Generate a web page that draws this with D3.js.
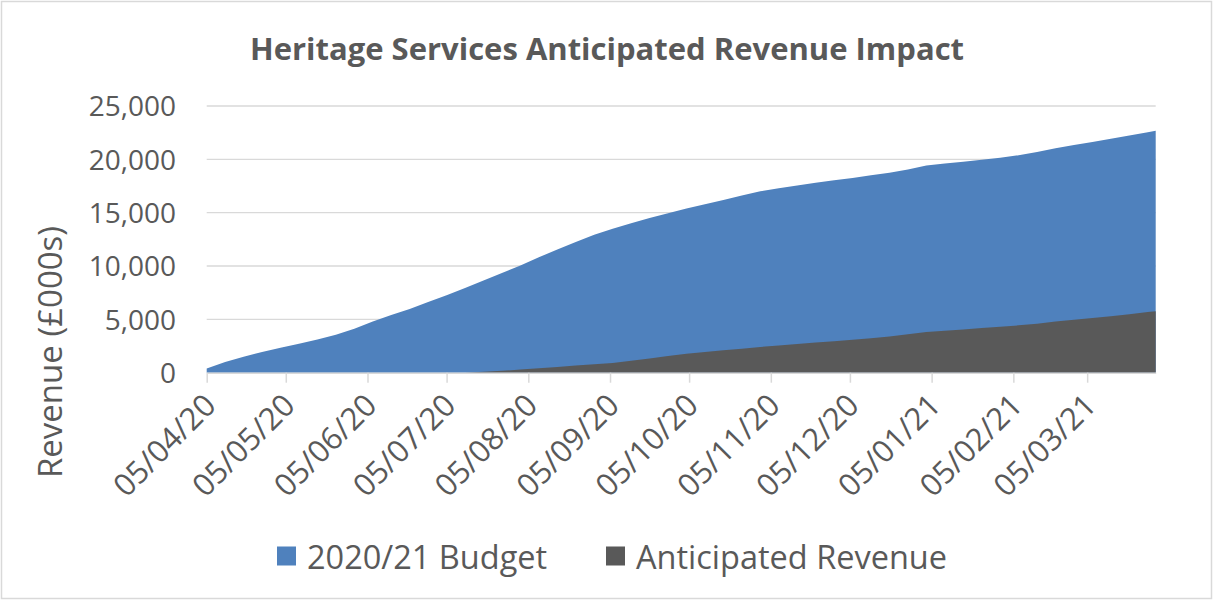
<!DOCTYPE html>
<html>
<head>
<meta charset="utf-8">
<script src="https://cdn.jsdelivr.net/npm/d3@7"></script>
<style>
  html, body { margin: 0; padding: 0; background: #fff; }
  svg { display: block; }
  text { font-family: "Open Sans", "Noto Sans", sans-serif; fill: #595959; }
</style>
</head>
<body>
<svg id="chart" width="1213" height="601"></svg>
<script>
const weeks = ["05/04/20","12/04/20","19/04/20","26/04/20","03/05/20","10/05/20","17/05/20","24/05/20","31/05/20",
  "07/06/20","14/06/20","21/06/20","28/06/20","05/07/20","12/07/20","19/07/20","26/07/20","02/08/20","09/08/20",
  "16/08/20","23/08/20","30/08/20","06/09/20","13/09/20","20/09/20","27/09/20","04/10/20","11/10/20","18/10/20",
  "25/10/20","01/11/20","08/11/20","15/11/20","22/11/20","29/11/20","06/12/20","13/12/20","20/12/20","27/12/20",
  "03/01/21","10/01/21","17/01/21","24/01/21","31/01/21","07/02/21","14/02/21","21/02/21","28/02/21","07/03/21",
  "14/03/21","21/03/21","28/03/21","31/03/21"];

const budget = [400,1000,1500,1950,2330,2710,3110,3560,4120,
  4800,5400,5980,6620,7250,7950,8650,9350,10050,10820,
  11550,12250,12920,13500,14000,14500,14950,15400,15800,16200,
  16600,17000,17300,17550,17800,18050,18250,18500,18750,19050,
  19420,19600,19780,19970,20150,20380,20680,21050,21350,21620,
  21920,22230,22550,22680];

const anticipated = [0,0,0,0,0,0,0,0,0,
  0,0,0,0,0,0,80,180,290,410,
  540,670,800,920,1130,1340,1560,1780,1950,2100,
  2250,2410,2560,2700,2830,2950,3080,3230,3400,3600,
  3820,3940,4060,4180,4300,4440,4600,4790,4970,5130,
  5300,5480,5680,5760];

const xTickLabels = ["05/04/20","05/05/20","05/06/20","05/07/20","05/08/20","05/09/20",
  "05/10/20","05/11/20","05/12/20","05/01/21","05/02/21","05/03/21"];
const yTicks = [0,5000,10000,15000,20000,25000];
const seriesNames = ["2020/21 Budget","Anticipated Revenue"];
const seriesColors = ["#4f81bd","#595959"];
const title = "Heritage Services Anticipated Revenue Impact";
const yTitle = "Revenue (£000s)";

const parse = d3.utcParse("%d/%m/%y");
const dates = weeks.map(parse);

const svg = d3.select("#chart");
const L = 206.7, R = 1155.7, T = 106, B = 372.7;

svg.append("rect").attr("x",1.5).attr("y",1.5).attr("width",1210).attr("height",597)
  .attr("fill","#fff").attr("stroke","#d9d9d9").attr("stroke-width",1.5);

const x = d3.scaleUtc().domain([dates[0], dates[dates.length-1]]).range([L, R]);
const y = d3.scaleLinear().domain([0, 25000]).range([B, T]);

// gridlines
svg.append("g").selectAll("line").data(yTicks.filter(d => d > 0)).join("line")
  .attr("x1", L).attr("x2", R).attr("y1", d => y(d)).attr("y2", d => y(d))
  .attr("stroke","#d9d9d9").attr("stroke-width",1.3);

const series = [budget, anticipated];
series.forEach((vals, i) => {
  const area = d3.area().x((d, j) => x(dates[j])).y0(y(0)).y1(d => y(d)).curve(d3.curveLinear);
  svg.append("path").datum(vals).attr("d", area).attr("fill", seriesColors[i]);
});

// x axis
const xTickDates = xTickLabels.map(parse);
const xAxis = d3.axisBottom(x).tickValues(xTickDates).tickSize(10).tickSizeOuter(0).tickFormat(d3.utcFormat("%d/%m/%y"));
const gx = svg.append("g").attr("transform", `translate(0,${B})`).call(xAxis);
gx.select(".domain").attr("stroke","#d9d9d9").attr("stroke-width",1.5);
gx.selectAll(".tick line").attr("stroke","#d9d9d9").attr("stroke-width",1.5);
gx.selectAll(".tick text")
  .attr("font-size", 31).attr("fill", "#595959")
  .attr("text-anchor","end").attr("dy", null).attr("y", 0)
  .attr("dominant-baseline","central")
  .attr("transform","translate(2,26) rotate(-45)");

// y axis labels
const yAxis = d3.axisLeft(y).tickValues(yTicks).tickSize(0).tickFormat(d3.format(","));
const gy = svg.append("g").attr("transform", `translate(176,0)`).call(yAxis);
gy.select(".domain").remove();
gy.selectAll(".tick text").attr("font-size", 28).attr("fill","#595959").attr("x",0).attr("dy","0.35em");

// title
svg.append("text").attr("x", 607).attr("y", 60).attr("text-anchor","middle")
  .attr("font-size", 31).attr("font-weight", "bold").text(title);

// y title
svg.append("text").attr("transform","translate(49,352) rotate(-90)")
  .attr("text-anchor","middle").attr("dominant-baseline","central")
  .attr("font-size", 33).text(yTitle);

// legend
const legX = [277, 606];
seriesNames.forEach((n, i) => {
  const g = svg.append("g").attr("transform", `translate(${legX[i]},556)`);
  g.append("rect").attr("x",0).attr("y",-9.5).attr("width",19).attr("height",19).attr("fill",seriesColors[i]);
  g.append("text").attr("x",30).attr("y",0).attr("dominant-baseline","central").attr("font-size",32.5).text(n);
});
</script>
</body>
</html>
